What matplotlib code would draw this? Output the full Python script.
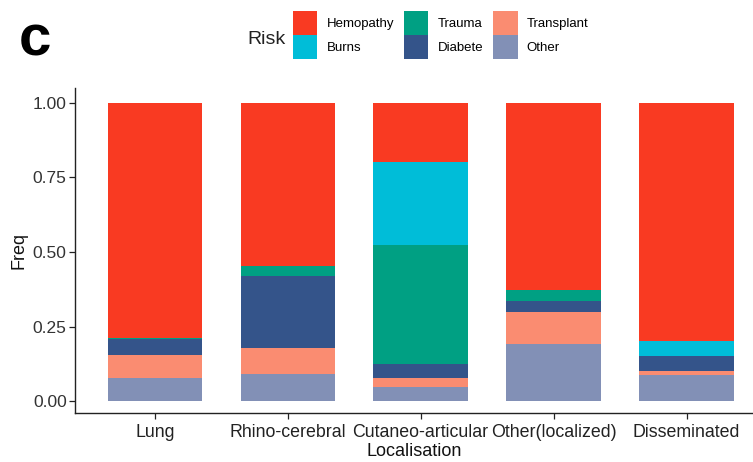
import matplotlib
matplotlib.use("Agg")
import matplotlib.pyplot as plt
import numpy as np

plt.rcParams['font.family'] = ['Liberation Sans', 'DejaVu Sans']

localisations = ["Lung", "Rhino-cerebral", "Cutaneo-articular", "Other(localized)", "Disseminated"]
risks = ["Hemopathy", "Burns", "Trauma", "Diabete", "Transplant", "Other"]

# frequency of each risk factor per localisation
freq_other      = [0.077, 0.091, 0.048, 0.191, 0.087]
freq_transplant = [0.077, 0.088, 0.031, 0.108, 0.015]
freq_diabete    = [0.053, 0.240, 0.044, 0.036, 0.050]
freq_trauma     = [0.005, 0.034, 0.400, 0.039, 0.000]
freq_burns      = [0.000, 0.000, 0.279, 0.000, 0.050]
freq_hemopathy  = [0.788, 0.547, 0.198, 0.626, 0.798]

colors = {
    "Hemopathy": "#F93A22",
    "Burns": "#00BDD8",
    "Trauma": "#00A083",
    "Diabete": "#34548A",
    "Transplant": "#FA8C71",
    "Other": "#8290B6",
}

# stacked from the bottom up
stack = [("Other", freq_other), ("Transplant", freq_transplant),
         ("Diabete", freq_diabete), ("Trauma", freq_trauma),
         ("Burns", freq_burns), ("Hemopathy", freq_hemopathy)]

fig = plt.figure(figsize=(7.53, 4.62), dpi=100)
ax = fig.add_axes([75/753, 1 - 413/462, (753 - 75)/753, (413 - 88)/462])

x = np.arange(1, len(localisations) + 1)
bottom = np.zeros(len(x))
handles = {}
for name, vals in stack:
    vals = np.array(vals)
    b = ax.bar(x, vals, width=0.71, bottom=bottom, color=colors[name],
               edgecolor="none", linewidth=0, label=name)
    handles[name] = b
    bottom += vals

ax.set_xlim(0.4, 5.5)
ax.set_ylim(-0.04, 1.05)
ax.set_yticks([0, 0.25, 0.5, 0.75, 1.0])
ax.set_yticklabels(["0.00", "0.25", "0.50", "0.75", "1.00"])
ax.set_xticks(x)
ax.set_xticklabels(localisations)

for side in ["top", "right"]:
    ax.spines[side].set_visible(False)
for side in ["left", "bottom"]:
    ax.spines[side].set_linewidth(1.0)
    ax.spines[side].set_color("#222222")

ax.tick_params(axis="y", labelsize=12.5, length=4, width=0.9, colors="#222222",
               labelcolor="#333333", pad=2)
ax.tick_params(axis="x", labelsize=12.8, length=4, width=0.9, colors="#222222",
               labelcolor="#222222", pad=4)

ax.set_xlabel("Localisation", fontsize=13, color="#111111", labelpad=1)
ax.set_ylabel("Freq", fontsize=13, color="#111111", labelpad=4)

# legend across the top
order = ["Hemopathy", "Burns", "Trauma", "Diabete", "Transplant", "Other"]
leg = fig.legend([handles[n] for n in order], order, ncol=3,
                 loc="center left", bbox_to_anchor=(293/753, 1 - 35/462),
                 frameon=False, fontsize=9.5, handlelength=1.85, handleheight=2.4,
                 handletextpad=0.7, columnspacing=0.75, labelspacing=0.0,
                 borderaxespad=0, borderpad=0)
fig.text(247/753, 1 - 40/462, "Risk", fontsize=14, color="#222222",
         ha="left", va="center")

fig.text(19/753, 1 - 41/462, "c", fontsize=42, fontweight="bold",
         color="black", ha="left", va="center")

fig.savefig("out.png", dpi=100)
